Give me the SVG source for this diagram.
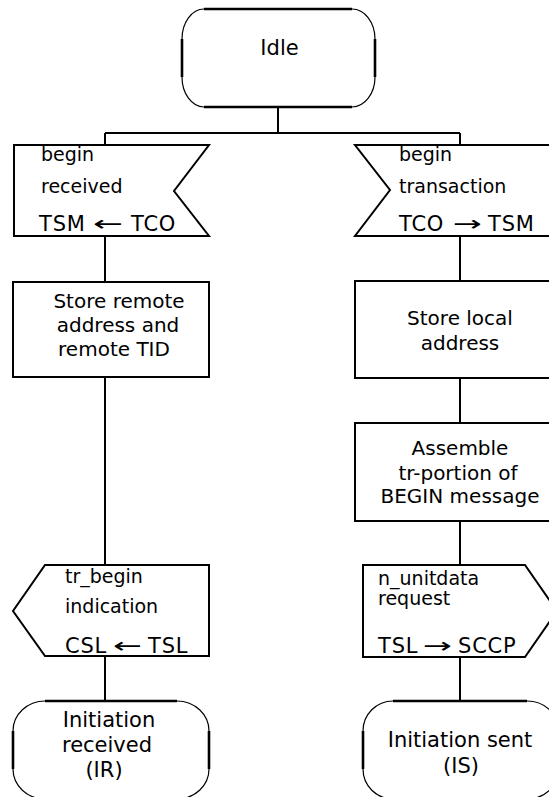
<svg xmlns="http://www.w3.org/2000/svg" width="549" height="797" viewBox="0 0 549 797">
<style>
.o{fill:none;stroke:#000;stroke-width:2;stroke-linejoin:miter}
.th{fill:none;stroke:#000;stroke-width:2.6}
.tn{fill:none;stroke:#000;stroke-width:1.2}
.w{fill:#fff}
text{font-family:"DejaVu Sans",sans-serif;fill:#000;font-size:19px}
.m{text-anchor:middle}
.p{font-size:20px}
.q{font-size:21px}
.b{font-size:21px;letter-spacing:0.8px}
.a{font-size:21px}
</style>
<rect class="w" x="0" y="0" width="549" height="797"/>
<g id="connectors" class="o">
<path d="M278,107 V133 M105,133 H460 M105,133 V145 M460,133 V145"/>
<path d="M105,236 V282 M105,377 V565 M105,656 V701"/>
<path d="M460,236 V281 M460,378 V423 M460,521 V565 M460,657 V701"/>
</g>
<g id="idle">
<path class="th" d="M204,9 H352 M204,107 H352"/>
<path class="th" d="M182,39 V77 M375,39 V77"/>
<path class="tn" d="M204,9 A22,30 0 0 0 182,39 M182,77 A22,30 0 0 0 204,107 M352,9 A23,30 0 0 1 375,39 M375,77 A23,30 0 0 1 352,107"/>
<text class="m q" x="279.5" y="55">Idle</text>
</g>
<g id="begin-received">
<polygon class="o" points="14,145 209,145 174,191 209,236 14,236"/>
<text x="41" y="161">begin</text>
<text x="41" y="193">received</text>
<text class="b" x="39" y="230.5">TSM</text>
<text class="a" x="93" y="230.5" textLength="30" lengthAdjust="spacingAndGlyphs">←</text>
<text class="b" x="131" y="230.5">TCO</text>
</g>
<g id="begin-transaction">
<polygon class="o" points="355,145 553,145 553,236 355,236 390,190"/>
<text x="399" y="161">begin</text>
<text x="399" y="193">transaction</text>
<text class="b" x="399" y="230.5">TCO</text>
<text class="a" x="453" y="230.5" textLength="29" lengthAdjust="spacingAndGlyphs">→</text>
<text class="b" x="488" y="230.5">TSM</text>
</g>
<g id="store-remote">
<rect class="o" x="13" y="282" width="196" height="95"/>
<text class="m p" x="119" y="308">Store remote</text>
<text class="m p" x="118" y="332">address and</text>
<text class="m p" x="114" y="356">remote TID</text>
</g>
<g id="store-local">
<rect class="o" x="355" y="281" width="198" height="97"/>
<text class="m p" x="460" y="325">Store local</text>
<text class="m p" x="460" y="350">address</text>
</g>
<g id="assemble">
<rect class="o" x="355" y="423" width="198" height="98"/>
<text class="m p" x="460" y="455">Assemble</text>
<text class="m p" x="458" y="480">tr-portion of</text>
<text class="m p" x="460" y="503">BEGIN message</text>
</g>
<g id="tr-begin-indication">
<polygon class="o" points="45,565 209,565 209,656 45,656 13,611"/>
<text x="65" y="583">tr_begin</text>
<text x="65" y="613">indication</text>
<text class="b" x="65" y="653">CSL</text>
<text class="a" x="113" y="653" textLength="29" lengthAdjust="spacingAndGlyphs">←</text>
<text class="b" x="148" y="653">TSL</text>
</g>
<g id="n-unitdata-request">
<polygon class="o" points="363,565 525,565 557,611 525,657 363,657"/>
<text x="378" y="585">n_unitdata</text>
<text x="378" y="605">request</text>
<text class="b" x="378" y="653">TSL</text>
<text class="a" x="423" y="653" textLength="29" lengthAdjust="spacingAndGlyphs">→</text>
<text class="b" x="458" y="653">SCCP</text>
</g>
<g id="initiation-received">
<path class="th" d="M45,701 H177 M45,799 H177"/>
<path class="th" d="M13,731 V769 M209,731 V769"/>
<path class="tn" d="M45,701 A32,30 0 0 0 13,731 M13,769 A32,30 0 0 0 45,799 M177,701 A32,30 0 0 1 209,731 M209,769 A32,30 0 0 1 177,799"/>
<text class="m q" x="109" y="727">Initiation</text>
<text class="m q" x="107" y="752">received</text>
<text class="m q" x="104" y="777">(IR)</text>
</g>
<g id="initiation-sent">
<path class="th" d="M393,701 H527 M393,799 H527"/>
<path class="th" d="M363,731 V769 M559,731 V769"/>
<path class="tn" d="M393,701 A30,30 0 0 0 363,731 M363,769 A30,30 0 0 0 393,799 M527,701 A32,30 0 0 1 559,731 M559,769 A32,30 0 0 1 527,799"/>
<text class="m q" x="460" y="747">Initiation sent</text>
<text class="m q" x="461" y="773">(IS)</text>
</g>
</svg>
